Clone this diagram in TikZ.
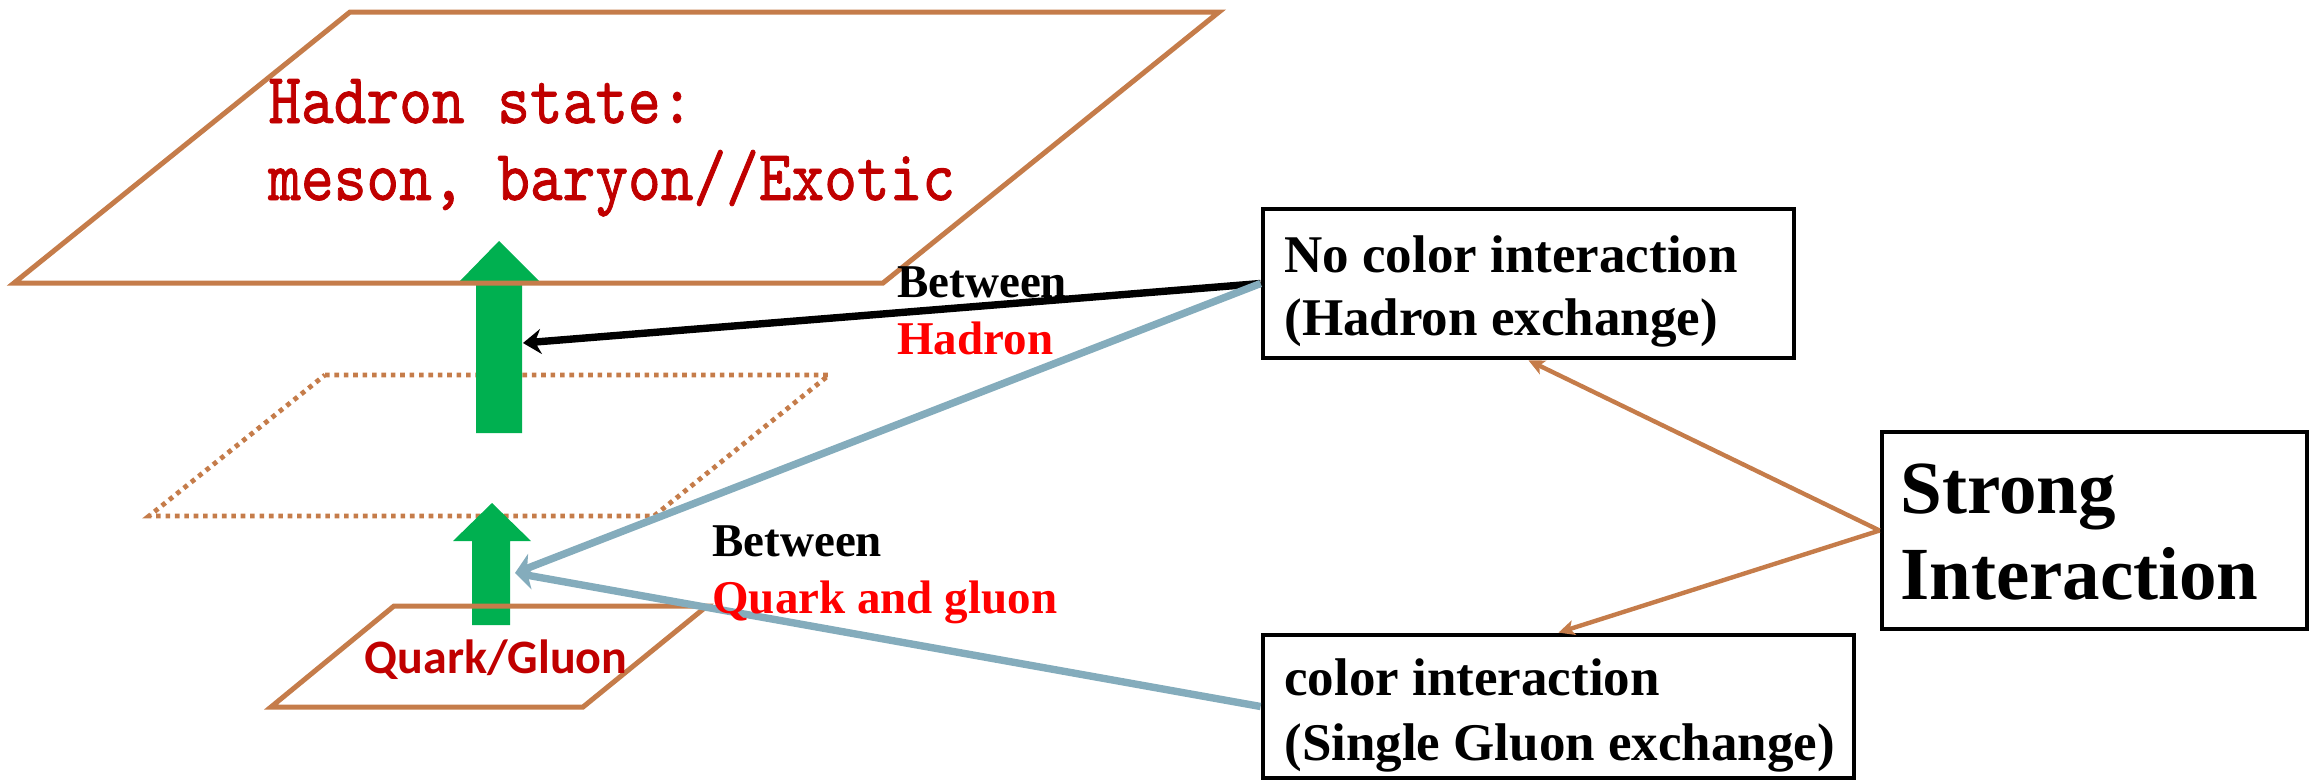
\documentclass[tikz,border=0pt]{standalone}
\usepackage{graphicx}
\usepackage{fontspec}
\setmainfont{Liberation Serif}
\newfontfamily\calibrifont{Carlito}
\newfontfamily\heavymono[FakeBold=1.2]{lmmono10-regular.otf}
\usetikzlibrary{arrows.meta}

\definecolor{planeorange}{RGB}{197,124,74}
\definecolor{upgreen}{RGB}{0,176,80}
\definecolor{darkred}{RGB}{192,0,0}
\definecolor{linkblue}{RGB}{132,172,188}

\begin{document}
\begin{tikzpicture}[x=0.5pt,y=-0.5pt,
  plane/.style={draw=planeorange, line width=2.5pt, line join=miter},
  ghostplane/.style={draw=planeorange, line width=2.4pt, dash pattern=on 2.3pt off 2.4pt},
  uparrow/.style={fill=upgreen},
  box/.style={draw=black, line width=2.4pt, inner sep=0pt, outer sep=1.2pt},
  txt/.style={inner sep=0pt, anchor=base west},
  boxtext/.style={txt, font=\fontsize{26.5}{31.5}\selectfont\bfseries},
  bigtext/.style={txt, font=\fontsize{37.5}{43}\selectfont\bfseries},
  labeltext/.style={txt, font=\fontsize{23.5}{28}\selectfont\bfseries},
  monotext/.style={txt, text=darkred, font=\heavymono\fontsize{36}{40}\selectfont},
  hadronlink/.style={draw=black, line width=3.7pt,
    -{Stealth[length=9pt,width=12.5pt,inset=3pt]}},
  quarklink/.style={draw=linkblue, line width=3.7pt,
    -{Stealth[length=9.5pt,width=13pt,inset=3pt]}},
  splitlink/.style={draw=planeorange, line width=2.2pt,
    -{Stealth[length=8pt,width=7.5pt,inset=2pt]}}
]
\useasboundingbox (0,0) rectangle (2318,782);

% middle level (dotted plane)
\draw[ghostplane] (325,375) -- (829,375) -- (654,516) -- (149,516) -- cycle;

% green upward arrows
\fill[uparrow] (476,433) -- (476,283) -- (458,283) -- (499,241) -- (541,283)
  -- (522,283) -- (522,433) -- cycle;
\fill[uparrow] (472,625) -- (472,541) -- (453,541) -- (492,503) -- (531,541)
  -- (510,541) -- (510,625) -- cycle;
\coordinate (hadronhit) at (523,343);
\coordinate (quarkhit) at (515,573);

% hadron and quark planes
\draw[plane] (350,12) -- (1219,12) -- (883,283) -- (14,283) -- cycle;
\draw[plane] (394,606) -- (707,606) -- (583,707) -- (271,707) -- cycle;

\node[monotext] (hadrona) at (268,123) {\scalebox{0.865}[1]{Hadron state:}};
\node[monotext] (hadronb) at (268,200) {\scalebox{0.865}[1]{meson, baryon//Exotic}};
\node[inner sep=0pt, anchor=base, text=darkred,
  font=\calibrifont\bfseries\fontsize{24}{28}\selectfont] (quark) at (496,673) {Quark/Gluon};

% interaction boxes
\node[box, minimum width=265.5pt, minimum height=74.5pt] (nocolor) at (1528.5,283.5) {};
\node[box, minimum width=212.5pt, minimum height=98.5pt] (strong) at (2094.5,530.5) {};
\node[box, minimum width=295.5pt, minimum height=71.5pt] (color) at (1558.5,706.5) {};

\node[boxtext] (nocolora) at (1284,272) {No color interaction};
\node[boxtext] (nocolorb) at (1284,335) {(Hadron exchange)};
\node[bigtext] (stronga) at (1900,513) {Strong};
\node[bigtext] (strongb) at (1900,599) {Interaction};
\node[boxtext] (colora) at (1284,695) {color interaction};
\node[boxtext] (colorb) at (1284,760) {(Single Gluon exchange)};

% connectors
\draw[splitlink] (strong.west) -- (nocolor.south);
\draw[splitlink] (strong.west) -- (color.north);
\draw[hadronlink] (nocolor.west) -- (hadronhit);
\draw[quarklink] (nocolor.west) -- (quarkhit);
\draw[quarklink] (color.west) -- (quarkhit);

% connector labels
\node[labeltext] (betweena) at (897,297) {Between};
\node[labeltext, text=red] (hadronlabel) at (897,354) {Hadron};
\node[labeltext] (betweenb) at (712,556) {Between};
\node[labeltext, text=red] (quarklabel) at (712,613) {Quark and gluon};
\end{tikzpicture}
\end{document}
